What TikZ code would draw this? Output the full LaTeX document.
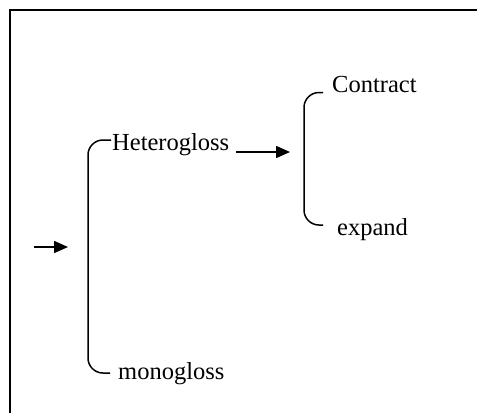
\documentclass[tikz,border=0pt]{standalone}
\usepackage{fontspec}
\setmainfont{Liberation Serif}
\usetikzlibrary{arrows.meta}
\begin{document}
\begin{tikzpicture}[x=1pt,y=-1pt,
  label/.style={anchor=base west,inner sep=0pt,font=\fontsize{24.5}{28}\selectfont},
  brace/.style={line width=1.5pt,rounded corners=15pt},
  flow/.style={line width=1.5pt,-{Triangle[length=14pt,width=12pt]}}]
  \useasboundingbox (0,0) rectangle (477,413);
  % frame (top and left edges)
  \draw[line width=2pt] (10,413) -- (10,10) -- (477,10);

  % labels
  \node[label] (het) at (112,150) {Heterogloss};
  \node[label] (mono) at (118,379) {monogloss};
  \node[label] (con) at (332,92.5) {Contract};
  \node[label] (exp) at (337,235) {expand};

  % arrow ends
  \coordinate (inS) at (34,247);
  \coordinate (inE) at (68,247);
  \coordinate (hetE) at (290,152);

  % incoming arrow
  \draw[flow] (inS) -- (inE);
  % first bracket
  \draw[brace] ([xshift=-1pt,yshift=10pt]het.base west) -| (88,260) |- ([xshift=-8pt,yshift=6pt]mono.base west);
  % arrow to second bracket
  \draw[flow] ([xshift=7pt,yshift=-2pt]het.base east) -- (hetE);
  % second bracket
  \draw[brace] ([xshift=-9pt,yshift=0pt]con.base west) -| (304,160) |- ([xshift=-14pt,yshift=10pt]exp.base west);
\end{tikzpicture}
\end{document}
